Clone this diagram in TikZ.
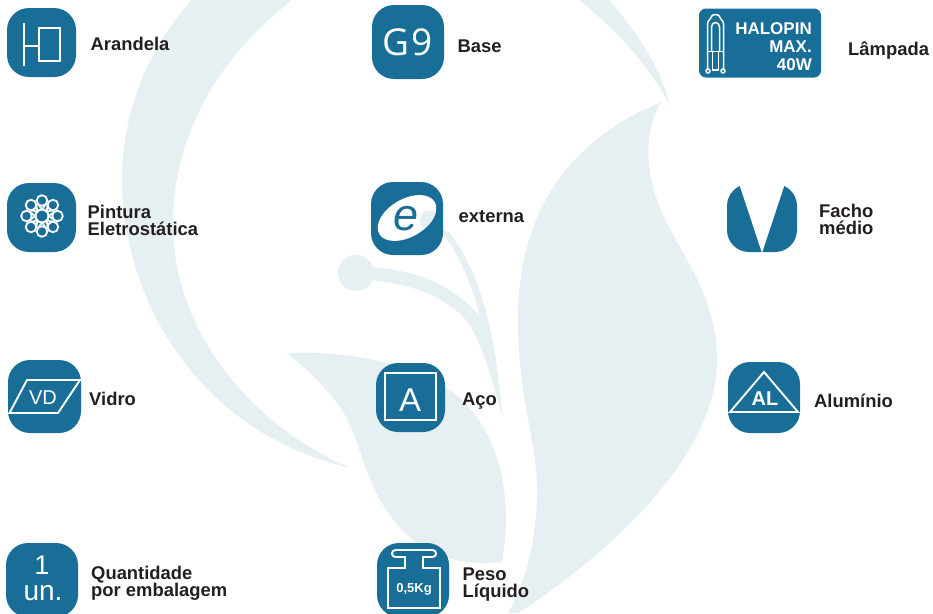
\documentclass[tikz,border=0pt]{standalone}
\usepackage{fontspec}
\setmainfont{Liberation Sans}
\newfontfamily\gfont{Open Sans}
\definecolor{teal}{HTML}{186E97}
\definecolor{wm}{HTML}{E6F0F3}
\definecolor{ink}{HTML}{231F20}
\newcommand{\fs}[1]{\fontsize{#1pt}{#1pt}\selectfont}
\newcommand{\twolines}[2]{\vtop{\baselineskip=17pt\lineskip=0pt\hbox{#1}\hbox{#2}}}
\tikzset{
  iconbox/.style={fill=teal,draw=none,rounded corners=22pt,inner sep=0pt,text=white},
  lbl/.style={anchor=base west,inner sep=0pt,text=ink,font=\bfseries\fs{18.4}},
  wline/.style={draw=white,line width=1.9pt,fill=none},
  bulb/.style={draw=white,line width=1.5pt,fill=none},
  wmark/.style={fill=wm,draw=none}
}
\begin{document}
\begin{tikzpicture}[x=1pt,y=-1pt]
\clip (0,0) rectangle (933,613);
\fill[white] (0,0) rectangle (933,613);
% watermark
\fill[wmark] (192,0) .. controls (150,45) and (122,110) .. (122,180)
  .. controls (122,290) and (190,430) .. (350,468)
  .. controls (250,425) and (173,330) .. (173,225)
  .. controls (173,130) and (222,55) .. (292,0) -- cycle;
\fill[wmark] (579,0) .. controls (620,33) and (652,70) .. (670,106)
  .. controls (660,65) and (635,30) .. (609,0) -- cycle;
\fill[wmark] (661,102) .. controls (570,140) and (518,210) .. (518,320)
  .. controls (518,400) and (537,440) .. (537,490)
  .. controls (537,540) and (525,585) .. (508,613) -- (518,613)
  .. controls (600,560) and (717,460) .. (717,360)
  .. controls (717,290) and (675,250) .. (657,200)
  .. controls (645,165) and (645,130) .. (661,102) -- cycle;
\fill[wmark] (287,353) .. controls (350,350) and (420,365) .. (460,398)
  .. controls (495,430) and (515,490) .. (502,562)
  .. controls (470,566) and (425,560) .. (395,522)
  .. controls (365,485) and (360,440) .. (345,415)
  .. controls (330,390) and (305,368) .. (287,353) -- cycle;
\fill[wmark] (356,273) circle[radius=18];
\fill[wmark] (370,267) .. controls (415,270) and (455,285) .. (480,317)
  .. controls (472,285) and (460,255) .. (440,230) -- (449,232)
  .. controls (475,265) and (495,320) .. (502,415)
  .. controls (490,375) and (480,330) .. (458,312)
  .. controls (435,293) and (405,283) .. (370,280) -- cycle;
% Arandela
\node[iconbox,minimum width=69pt,minimum height=69pt] (arandela) at (41.5,42.5) {};
\draw[wline] (24,23) -- (24,66);
\draw[wline] (24,46) -- (39,46);
\draw[wline] (39,28) rectangle (60,61);
\node[lbl] (tarandela) at (90.5,50.5) {Arandela};
% Base
\node[iconbox,minimum width=72pt,minimum height=74pt,font=\gfont\fs{37}] (base) at (408,42) {G\hspace{2pt}9};
\node[lbl] (tbase) at (457.5,52.5) {Base};
% Lampada
\node[iconbox,rounded corners=7pt,minimum width=122pt,minimum height=69pt] (lampada) at (760,43) {};
\draw[bulb] (707.5,70) -- (707.5,24) .. controls (707.5,20) and (711,20) .. (711,17.5) .. controls (711,13.5) and (720,13.5) .. (720,17.5) .. controls (720,20) and (723.5,20) .. (723.5,24) -- (723.5,70);
\draw[bulb] (711.5,52) -- (711.5,27) .. controls (711.5,21) and (719.5,21) .. (719.5,27) -- (719.5,52);
\draw[bulb] (707.5,51.5) -- (723.5,51.5);
\draw[bulb] (712.5,52) -- (712.5,70) -- (718.5,70) -- (718.5,52);
\draw[bulb] (708,71) circle[radius=2] (723,71) circle[radius=2];
\node[anchor=base east,inner sep=0,text=white,font=\bfseries\fs{17}] (thalo) at (812,34) {HALOPIN};
\node[anchor=base east,inner sep=0,text=white,font=\bfseries\fs{17}] (tmax) at (812,52) {MAX.};
\node[anchor=base east,inner sep=0,text=white,font=\bfseries\fs{17}] (twatt) at (812,70) {40W};
\node[lbl] (tlampada) at (848,55) {Lâmpada};
% Pintura
\node[iconbox,minimum width=69pt,minimum height=69pt] (pintura) at (41.5,217.5) {};
\draw[draw=white,line width=2pt] (42,216) circle[radius=6.5];
\foreach \a in {0,45,...,315}{
  \draw[draw=white,line width=1.8pt] (42,216) ++(\a:15.5) circle[radius=5.3];
  \draw[draw=white,line width=1.6pt] ([shift={(42,216)}]\a-20:13.5) -- ([shift={(42,216)}]\a:6.5) -- ([shift={(42,216)}]\a+20:13.5);
}
\node[lbl] (tpintura) at (87.5,218.5) {\twolines{Pintura}{Eletrostática}};
% externa
\node[iconbox,minimum width=72pt,minimum height=73pt] (externa) at (407,218.5) {};
\fill[white,rotate around={30:(407,218)}] (407,218) ellipse[x radius=32,y radius=19];
\begin{scope}
\clip[rotate around={30:(407,218)}] (407,218) ellipse[x radius=32,y radius=19];
\fill[wm] (429,220) circle[radius=9.5];
\fill[wm] (421,222) -- (430,212) -- (445,240) -- (434,240) -- cycle;
\end{scope}
\node[inner sep=0,text=teal,font=\itshape\fs{45}] (te) at (406,219) {e};
\node[lbl] (texterna) at (458.5,222) {externa};
% Facho
\node[iconbox,minimum width=70pt,minimum height=68pt] (facho) at (762,218) {};
\fill[white] (738.5,182) -- (785.5,182) -- (762,253) -- cycle;
\node[lbl] (tfacho) at (819,217) {\twolines{Facho}{médio}};
% Vidro
\node[iconbox,minimum width=73pt,minimum height=73pt] (vidro) at (44.5,396.5) {};
\draw[wline] (27,380) -- (80,380) -- (58,413) -- (9.5,413) -- cycle;
\node[inner sep=0,text=white,font=\fs{20}] (tvd) at (43,398) {VD};
\node[lbl] (tvidro) at (89,405) {Vidro};
% Aco
\node[iconbox,minimum width=69pt,minimum height=69pt] (aco) at (410.5,397.5) {};
\draw[wline] (385,373) rectangle (436,420);
\node[inner sep=0,text=white,font=\fs{33}] (ta) at (410,400) {A};
\node[lbl] (taco) at (462,405) {Aço};
% Aluminio
\node[iconbox,minimum width=72pt,minimum height=71pt] (aluminio) at (764,397.5) {};
\draw[wline] (764,372) -- (798,412) -- (730,412) -- cycle;
\node[inner sep=0,text=white,font=\bfseries\fs{20}] (tal) at (765,399) {AL};
\node[lbl] (taluminio) at (814,407) {Alumínio};
% Quantidade
\node[iconbox,minimum width=72pt,minimum height=74pt] (quant) at (42,580) {};
\node[inner sep=0,text=white,font=\fs{27}] (t1) at (42,565) {1};
\node[inner sep=0,text=white,font=\fs{28}] (tun) at (43,593) {un.};
\node[lbl] (tquant) at (91,579) {\twolines{Quantidade}{por embalagem}};
% Peso
\node[iconbox,minimum width=72pt,minimum height=74pt] (peso) at (413,580) {};
\draw[wline] (388,568) -- (405,568) -- (405,557) -- (395.5,557) .. controls (390.8,557) and (390.8,550) .. (395.5,550) -- (432.5,550) .. controls (437.2,550) and (437.2,557) .. (432.5,557) -- (423,557) -- (423,568) -- (440,568) -- (440,608) -- (388,608) -- cycle;
\node[inner sep=0,text=white,font=\bfseries\fs{13}] (tkg) at (414,589) {0,5Kg};
\node[lbl] (tpeso) at (462.5,580) {\twolines{Peso}{Líquido}};
\end{tikzpicture}
\end{document}
